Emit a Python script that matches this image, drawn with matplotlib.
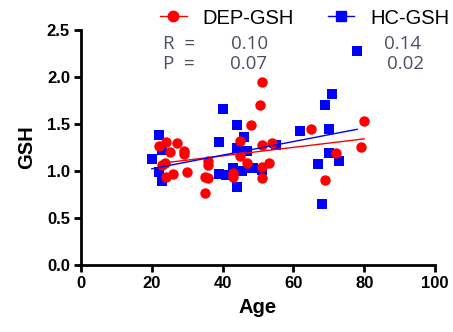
import numpy as np
import matplotlib
matplotlib.use("Agg")
import matplotlib.pyplot as plt
from matplotlib.lines import Line2D

# DEP-GSH (red circles)
dep_age = [22, 24, 25, 27, 29, 29, 23.7, 23, 26, 24, 30, 36, 36, 35, 36, 35,
           43, 43, 45, 45, 47, 48, 50.5, 51, 51, 54, 51, 53, 51, 65, 72, 69, 80, 79]
dep_gsh = [1.27, 1.31, 1.20, 1.30, 1.21, 1.18, 1.09, 1.06, 0.97, 0.94, 0.99, 1.11, 1.06, 0.94, 0.93, 0.77,
           0.98, 0.94, 1.32, 1.16, 1.09, 1.49, 1.70, 1.95, 1.28, 1.30, 1.04, 1.08, 0.93, 1.45, 1.19, 0.90, 1.53, 1.26]

# HC-GSH (blue squares)
hc_age = [78, 71, 69, 62, 70, 70, 73, 67, 68, 55, 48.5, 51,
          22, 20, 23, 22, 23, 40, 39, 44, 46, 44, 47, 39, 41, 43, 45.5, 44, 48]
hc_gsh = [2.28, 1.82, 1.70, 1.43, 1.45, 1.19, 1.11, 1.07, 0.65, 1.28, 1.03, 1.01,
          1.38, 1.13, 1.22, 0.99, 0.89, 1.66, 1.31, 1.49, 1.36, 1.24, 1.21, 0.97, 0.96, 1.03, 1.00, 0.83, 1.03]

series_labels = ["DEP-GSH", "HC-GSH"]
r_values = ["0.10", "0.14"]
p_values = ["0.07", "0.02"]
x_ticks = [0, 20, 40, 60, 80, 100]
y_ticks = [0.0, 0.5, 1.0, 1.5, 2.0, 2.5]

RED = "#ff0000"
BLUE = "#0000ff"

plt.rcParams['font.family'] = ['Liberation Sans', 'DejaVu Sans']

fig = plt.figure(figsize=(4.53, 3.32), dpi=100)
ax = fig.add_axes([81/453, 1-265/332, (435-81)/453, (265-30)/332])

ax.plot(dep_age, dep_gsh, 'o', color=RED, markersize=7.5, markeredgewidth=0, zorder=3)
ax.plot(hc_age, hc_gsh, 's', color=BLUE, markersize=6.8, markeredgewidth=0, zorder=2)

for xs, ys, c in [(dep_age, dep_gsh, RED), (hc_age, hc_gsh, BLUE)]:
    xs = np.array(xs); ys = np.array(ys)
    m, b = np.polyfit(xs, ys, 1)
    xx = np.array([xs.min(), xs.max()])
    ax.plot(xx, m*xx + b, color=c, lw=1.0, zorder=4)

ax.set_xlim(0, 100)
ax.set_ylim(0, 2.5)
ax.set_xticks(x_ticks)
ax.set_yticks(y_ticks)
ax.set_yticklabels([f"{v:.1f}" for v in y_ticks])
for s in ['top', 'right']:
    ax.spines[s].set_visible(False)
for s in ['left', 'bottom']:
    ax.spines[s].set_linewidth(2)
ax.tick_params(width=2, length=5, labelsize=12, pad=3)
for lab in ax.get_xticklabels() + ax.get_yticklabels():
    lab.set_fontweight('bold')
ax.set_xlabel("Age", fontsize=14.5, fontweight='bold', labelpad=5)
ax.set_ylabel("GSH", fontsize=14.5, fontweight='bold', labelpad=8)

handles = [Line2D([], [], color=RED, marker='o', markersize=7.5, lw=1),
           Line2D([], [], color=BLUE, marker='s', markersize=6.8, lw=1)]
fig.legend(handles, series_labels, loc='center', bbox_to_anchor=(305/453, 1-18/332),
           ncol=2, frameon=False, handlelength=1.3, columnspacing=1.7,
           handletextpad=0.8, prop={'family': 'Liberation Sans', 'size': 14.5})

gray = "#4a5060"
tf = dict(fontsize=13.5, color=gray, family='Open Sans', va='center')
fig.text(163/453, 1-44/332, "R  =", ha='left', **tf)
fig.text(163/453, 1-64/332, "P  =", ha='left', **tf)
fig.text(250/453, 1-44/332, r_values[0], ha='center', **tf)
fig.text(249/453, 1-64/332, p_values[0], ha='center', **tf)
fig.text(403/453, 1-44/332, r_values[1], ha='center', **tf)
fig.text(406/453, 1-64/332, p_values[1], ha='center', **tf)

fig.savefig("out.png", dpi=100)
